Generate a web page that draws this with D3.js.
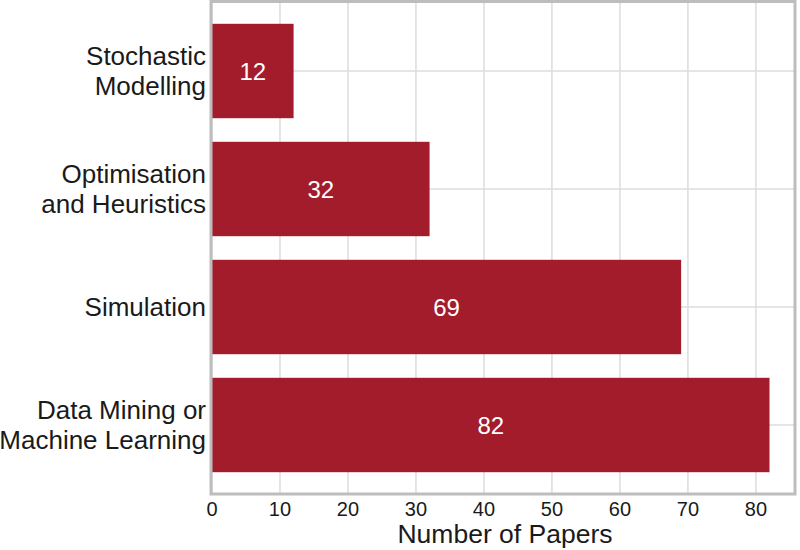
<!DOCTYPE html>
<html>
<head>
<meta charset="utf-8">
<script src="https://cdn.jsdelivr.net/npm/d3@7"></script>
<style>
  body { margin: 0; background: #fff; }
  text { font-family: "Liberation Sans", Arial, sans-serif; }
</style>
</head>
<body>
<div id="chart"></div>
<script>
// Paper counts by method category (top to bottom)
const categories = [
    ["Stochastic", "Modelling"],
    ["Optimisation", "and Heuristics"],
    ["Simulation"],
    ["Data Mining or", "Machine Learning"]
];
const counts = [12, 32, 69, 82];
const xTicks = [0, 10, 20, 30, 40, 50, 60, 70, 80];

const W = 800, H = 550;
const frame = {left: 211, right: 795, top: 1.5, bottom: 494};

const svg = d3.select("#chart").append("svg")
    .attr("width", W)
    .attr("height", H);

const x = d3.scaleLinear()
    .domain([0, 85.75])
    .range([212, 795]);

const y = d3.scaleBand()
    .domain(d3.range(categories.length))
    .range([12, 484])
    .padding(0.2)
    .paddingOuter(0.1);

// Grid lines
svg.append("g")
    .selectAll("line.vgrid")
    .data(xTicks)
    .enter()
    .append("line")
    .attr("x1", d => x(d))
    .attr("x2", d => x(d))
    .attr("y1", frame.top)
    .attr("y2", frame.bottom)
    .attr("stroke", "#dcdcdc")
    .attr("stroke-width", 1.5);

svg.append("g")
    .selectAll("line.hgrid")
    .data(d3.range(categories.length))
    .enter()
    .append("line")
    .attr("x1", frame.left)
    .attr("x2", frame.right)
    .attr("y1", d => y(d) + y.bandwidth() / 2)
    .attr("y2", d => y(d) + y.bandwidth() / 2)
    .attr("stroke", "#dcdcdc")
    .attr("stroke-width", 1.5);

// Bars
svg.selectAll(".bar")
    .data(counts)
    .enter()
    .append("rect")
    .attr("class", "bar")
    .attr("x", x(0))
    .attr("y", (d, i) => y(i))
    .attr("width", d => x(d) - x(0))
    .attr("height", y.bandwidth())
    .attr("fill", "#a31c2b");

// Value labels inside bars
svg.selectAll(".val")
    .data(counts)
    .enter()
    .append("text")
    .attr("x", d => (x(0) + x(d)) / 2)
    .attr("y", (d, i) => y(i) + y.bandwidth() / 2)
    .attr("dy", "0.36em")
    .attr("text-anchor", "middle")
    .attr("fill", "#fff")
    .style("font-size", "24px")
    .text(d => d);

// Frame
svg.append("rect")
    .attr("x", frame.left)
    .attr("y", frame.top)
    .attr("width", frame.right - frame.left)
    .attr("height", frame.bottom - frame.top)
    .attr("fill", "none")
    .attr("stroke", "#bdbdbd")
    .attr("stroke-width", 3);

// Category labels
const catG = svg.selectAll(".cat")
    .data(categories)
    .enter()
    .append("text")
    .attr("text-anchor", "end")
    .attr("fill", "#1a1a1a")
    .style("font-size", "26px");

catG.each(function (lines, i) {
    const cy = y(i) + y.bandwidth() / 2;
    const lh = 30;
    const start = cy - (lines.length - 1) * lh / 2;
    d3.select(this).selectAll("tspan")
        .data(lines)
        .enter()
        .append("tspan")
        .attr("x", 206)
        .attr("y", (d, j) => start + j * lh)
        .attr("dy", "0.36em")
        .text(d => d);
});

// X tick labels
svg.selectAll(".tick-label")
    .data(xTicks)
    .enter()
    .append("text")
    .attr("x", d => x(d))
    .attr("y", 516)
    .attr("text-anchor", "middle")
    .attr("fill", "#1a1a1a")
    .style("font-size", "20px")
    .text(d => d);

// X axis title
svg.append("text")
    .attr("x", 505)
    .attr("y", 543)
    .attr("text-anchor", "middle")
    .attr("fill", "#1a1a1a")
    .style("font-size", "26.5px")
    .text("Number of Papers");
</script>
</body>
</html>
